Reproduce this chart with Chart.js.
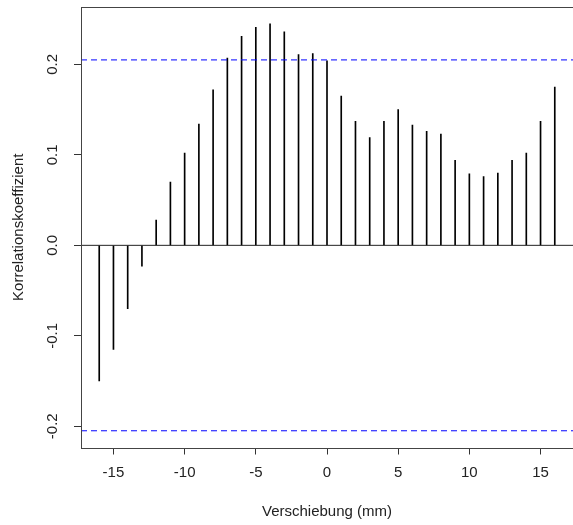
<!DOCTYPE html>
<html>
<head>
<meta charset="utf-8">
<script src="https://cdn.jsdelivr.net/npm/chart.js@4/dist/chart.umd.min.js"></script>
<style>
  html, body { margin: 0; padding: 0; background: #fff; }
  #wrap { width: 573px; height: 525px; }
</style>
</head>
<body>
<div id="wrap"><canvas id="myChart"></canvas></div>
<script>
// Verschiebung (lag) in mm
var lags = [-16, -15, -14, -13, -12, -11, -10, -9, -8, -7, -6, -5, -4, -3, -2, -1,
            0, 1, 2, 3, 4, 5, 6, 7, 8, 9, 10, 11, 12, 13, 14, 15, 16];
// Korrelationskoeffizient je Verschiebung
var korrelation = [-0.150, -0.115, -0.070, -0.023, 0.028, 0.070, 0.102, 0.134, 0.172, 0.207,
                   0.231, 0.241, 0.245, 0.236, 0.211, 0.212,
                   0.204, 0.165, 0.137, 0.119, 0.137, 0.150, 0.133, 0.126, 0.123,
                   0.094, 0.079, 0.076, 0.080, 0.094, 0.102, 0.137, 0.175];
var konfidenz = 0.205;
var xTicks = [-15, -10, -5, 0, 5, 10, 15];
var yTicks = [-0.2, -0.1, 0, 0.1, 0.2];

var xMin = -17.28, xMax = 17.28;

var frame = {
  id: 'frame',
  afterDraw: function(chart) {
    var a = chart.chartArea, c = chart.ctx;
    c.save();
    c.strokeStyle = '#444';
    c.lineWidth = 1;
    c.strokeRect(Math.round(a.left) + 0.5, Math.round(a.top) + 0.5,
                 Math.round(a.right - a.left), Math.round(a.bottom - a.top));
    c.restore();
  }
};

var ctx = document.getElementById("myChart").getContext('2d');
var myChart = new Chart(ctx, {
  type: 'bar',
  plugins: [frame],
  data: {
    datasets: [
      {
        type: 'line',
        data: [{x: xMin, y: 0}, {x: xMax, y: 0}],
        borderColor: '#222',
        borderWidth: 1,
        pointRadius: 0,
        order: 2
      },
      {
        type: 'line',
        data: [{x: xMin, y: konfidenz}, {x: xMax, y: konfidenz}],
        borderColor: '#0000ff',
        borderWidth: 1,
        borderDash: [6, 4],
        pointRadius: 0,
        order: 1
      },
      {
        type: 'line',
        data: [{x: xMin, y: -konfidenz}, {x: xMax, y: -konfidenz}],
        borderColor: '#0000ff',
        borderWidth: 1,
        borderDash: [6, 4],
        pointRadius: 0,
        order: 1
      },
      {
        label: 'ccf',
        data: lags.map(function(l, i) { return {x: l, y: korrelation[i]}; }),
        backgroundColor: '#000',
        barThickness: 1,
        order: 3
      }
    ]
  },
  options: {
    responsive: true,
    maintainAspectRatio: false,
    animation: false,
    layout: { padding: { top: 7, right: 0, left: 0, bottom: 0 } },
    plugins: {
      legend: { display: false },
      tooltip: { enabled: false }
    },
    scales: {
      x: {
        type: 'linear',
        min: xMin,
        max: xMax,
        offset: false,
        afterBuildTicks: function(ax) { ax.ticks = xTicks.map(function(v) { return {value: v}; }); },
        afterFit: function(ax) { ax.height = 77.5; ax.paddingLeft = 0; ax.paddingRight = 0; },
        grid: { display: true, drawOnChartArea: false, tickLength: 7, tickColor: '#333', offset: false },
        border: { display: false },
        ticks: { color: '#222', font: { family: 'Liberation Sans', size: 15 }, padding: 9, maxRotation: 0 },
        title: { display: true, text: 'Verschiebung (mm)', color: '#222',
                 font: { family: 'Liberation Sans', size: 15 }, padding: { top: 8 } }
      },
      y: {
        min: -0.2235,
        max: 0.2635,
        afterBuildTicks: function(ax) { ax.ticks = yTicks.map(function(v) { return {value: v}; }); },
        afterFit: function(ax) { ax.width = 81; ax.paddingTop = 0; ax.paddingBottom = 0; },
        grid: { display: true, drawOnChartArea: false, tickLength: 7, tickColor: '#333' },
        border: { display: false },
        ticks: { color: '#222', font: { family: 'Liberation Sans', size: 15 }, minRotation: 90, maxRotation: 90,
                 crossAlign: 'center', padding: 8,
                 callback: function(v) { return v === 0 ? '0.0' : v.toFixed(1); } },
        title: { display: true, text: 'Korrelationskoeffizient', color: '#222',
                 font: { family: 'Liberation Sans', size: 15 }, padding: { top: 10, bottom: 10 } }
      }
    }
  }
});
</script>
</body>
</html>
